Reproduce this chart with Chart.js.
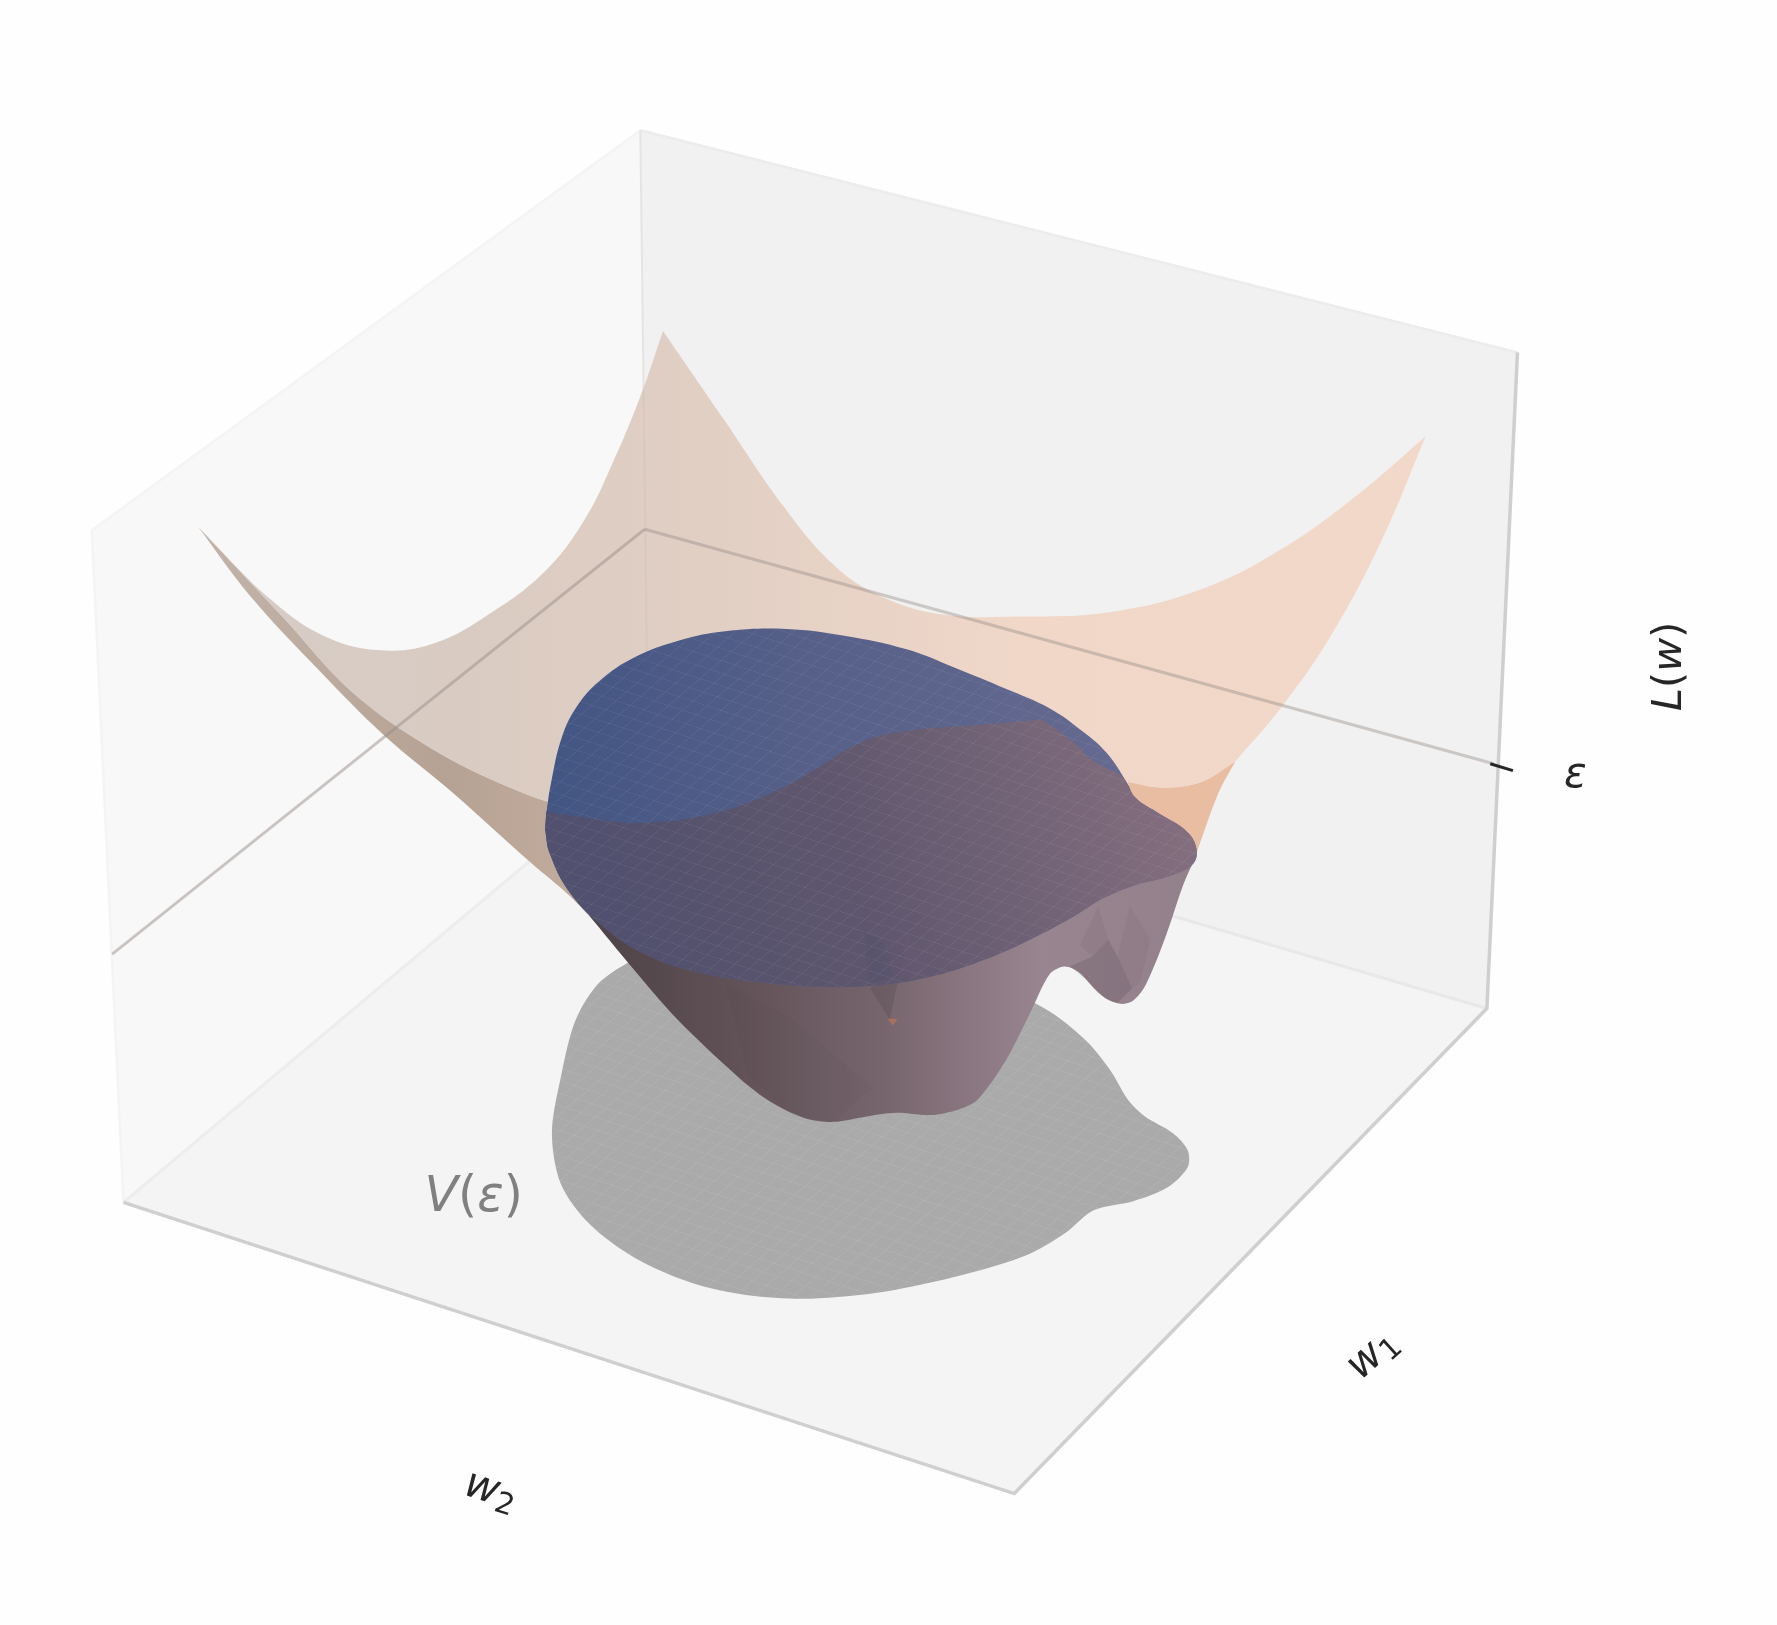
<!DOCTYPE html>
<html>
<head>
<meta charset="utf-8">
<title>Loss landscape</title>
<style>
  html, body { margin: 0; background: #fefefe; }
  canvas { display: block; }
</style>
<script src="https://cdn.jsdelivr.net/npm/chart.js@4"></script>
</head>
<body>
<canvas id="chart" width="1777" height="1625"></canvas>
<script>
var leftWall = [[81,468],[565,115],[572,672],[109,1061]];
var rightWall = [[565,115],[1339,311],[1312,890],[572,672]];
var floorPane = [[109,1061],[572,672],[1312,890],[895,1318]];

var floorEdge = [[109,1061],[895,1318],[1312,890],[1339,311]];
var leftEdge = [[109,1061],[81,468],[565,115]];
var topEdge = [[565,115],[1339,311]];
var backEdge = [[565,115],[572,672]];
var floorBackLeft = [[109,1061],[572,672]];
var floorBackRight = [[572,672],[1312,890]];
var epsLeft = [[99,842],[569,467]];
var epsRight = [[569,467],[1318,674]];
var epsTick = [[1315,674],[1335,680]];

var shadowOutline = [[570,840],[530,866],[508,900],[495,950],[487,1000],[495,1045],[520,1080],[560,1110],[610,1132],[660,1143],[715,1146],[780,1140],[850,1125],[905,1108],[940,1088],[965,1068],[1000,1060],[1030,1048],[1048,1030],[1048,1015],[1035,1000],[1010,985],[995,970],[980,945],[960,920],[930,895],[890,873],[850,852],[700,830]];

var surfaceUnder = [[175,465],[175,465],[220,525],[280,590],[340,650],[400,700],[468,761],[503,791],[535,825],[535,825],[620,760],[560,720],[500,712],[450,695],[380,660],[310,610],[250,545],[175,465]];
var surfaceCorner = [[995,688],[995,688],[1025,695],[1060,690],[1090,672],[1090,672],[1075,700],[1055,755],[1055,755],[1002,730]];
var surfaceTop = [[585,292],[585,292],[640,372],[690,445],[735,498],[775,525],[830,542],[900,544],[980,540],[1060,520],[1130,485],[1200,435],[1258,385],[1258,385],[1220,475],[1175,560],[1130,625],[1090,672],[1090,672],[1060,690],[1025,695],[995,690],[995,690],[800,720],[570,726],[500,712],[450,695],[380,660],[310,610],[250,545],[175,465],[175,465],[240,530],[290,563],[340,574],[385,567],[430,543],[480,505],[515,460],[540,410],[565,350],[585,292]];

var trunkOutline = [[520,808],[520,808],[557,853],[598,900],[652,951],[681,973],[711,987],[736,990],[766,985],[791,982],[821,984],[846,979],[863,970],[888,935],[909,894],[926,860],[939,853],[952,858],[968,875],[979,883],[990,886],[1000,883],[1011,869],[1028,828],[1044,781],[1055,756],[1055,756],[800,760],[600,780]];
var trunkFacetA = [[944,853],[964,844],[978,829],[986,844],[999,872],[986,885],[975,881],[959,865]];
var trunkFacetB = [[953,834],[969,800],[978,829],[964,844]];
var trunkFacetC = [[997,799],[1015,829],[1006,867],[999,872],[986,844]];
var trunkFacetD = [[640,868],[700,900],[770,960],[736,990],[700,985],[660,950]];
var foldLower = [[768,872],[785,900],[790,876],[793,864],[775,866]];
var foldTip = [[783,899],[792,899],[788,905]];

var blobBack = [[482,718],[486,692],[496,650],[510,622],[530,600],[560,580],[600,565],[640,557],[694,555],[745,561],[800,573],[842,589],[888,608],[926,625],[956,646],[977,665]];
var blobFrontRim = [[520,722],[570,726],[640,715],[700,690],[760,655],[800,645],[860,640],[920,635],[920,635],[947,655],[964,671],[988,684]];
var blobRim = [[994,690],[1002,704],[1023,718],[1044,731],[1055,746],[1053,762],[1032,773],[1002,781],[973,793],[947,809],[905,831],[863,849],[821,862],[779,869],[732,871],[673,867],[615,858],[571,843],[535,820],[503,788],[485,753],[481,732]];
var foldUpperDark = [[762,821],[767,868],[788,862],[779,832]];
var foldUpperLight = [[800,821],[794,865],[815,858]];

var axisLabels = [['w', '2'], ['w', '1'], ['L', '(', 'w', ')'], ['\u03b5'], ['V', '(', '\u03b5', ')']];

var viewToPage = 1777 / 1568;

function toXY(list) {
    return list.map(p => ({x: p[0], y: p[1]}));
}

// linear gradient between two points of the view, stops are [0..1, colour]
function gradient(from, to, stops) {
    return function(ctx) {
        var g = ctx.chart.ctx.createLinearGradient(from[0] * viewToPage, from[1] * viewToPage, to[0] * viewToPage, to[1] * viewToPage);
        stops.forEach(s => g.addColorStop(s[0], s[1]));
        return g;
    };
}

// the fine surface mesh, a skewed tile
function mesh(alpha) {
    return function(ctx) {
        var tile = document.createElement('canvas');
        tile.width = tile.height = 64;
        var t = tile.getContext('2d');
        t.fillStyle = 'rgba(255,255,255,' + alpha + ')';
        t.fillRect(0, 0, 64, 4);
        t.fillRect(0, 0, 4, 64);
        var p = ctx.chart.ctx.createPattern(tile, 'repeat');
        p.setTransform(new DOMMatrix([14 / 64, 4.6 / 64, -10.5 / 64, 9 / 64, 0, 0]));
        return p;
    };
}

function shape(points, color, tension) {
    return {data: toXY(points), showLine: true, fill: 'shape', backgroundColor: color, borderWidth: 0, pointRadius: 0, tension: tension || 0};
}

function line(points, color, width) {
    return {data: toXY(points), showLine: true, fill: false, borderColor: color, borderWidth: width, pointRadius: 0, tension: 0};
}

var blobOutline = blobBack.concat(blobRim);
var blobFront = [[482,716],[482,716]].concat(blobFrontRim, blobRim);

var layers = [
    shape(leftWall, '#f8f8f8'),
    shape(rightWall, '#f1f1f1'),
    shape(floorPane, '#f4f4f4'),
    line(leftEdge, '#f4f4f4', 2.5),
    line(topEdge, '#ececec', 2.5),
    line(backEdge, '#eeeeee', 2),
    line(floorBackLeft, '#ededed', 3),
    line(floorBackRight, '#e8e8e8', 3),
    line(floorEdge, '#cfcfcf', 3.5),
    shape(shadowOutline, '#aaaaaa', 0.3),
    shape(shadowOutline, mesh(0.07), 0.3),
    shape(surfaceUnder, gradient([175,0], [540,0], [[0,'#c2b3a9'],[0.6,'#b6a294'],[1,'#c4ad9e']]), 0.35),
    shape(surfaceCorner, '#e8bda2', 0.3),
    shape(surfaceTop, gradient([175,0], [1258,0], [[0,'#d6cdc7'],[0.21,'#d9cbc2'],[0.41,'#e1cfc4'],[0.67,'#f0d7c8'],[1,'#f2d8c9']]), 0.4),
    line(backEdge, 'rgba(170,150,135,0.10)', 2),
    line(epsLeft, 'rgba(150,140,135,0.48)', 3),
    line(epsRight, 'rgba(150,140,135,0.42)', 3),
    line(epsTick, '#262626', 3),
    shape(trunkOutline, gradient([534,0], [1055,0], [[0,'#4f4448'],[0.2,'#5f5055'],[0.47,'#77656d'],[0.74,'#998590'],[1,'#92808a']]), 0.3),
    shape(trunkFacetD, 'rgba(60,45,50,0.04)'),
    shape(trunkFacetA, 'rgba(50,40,45,0.15)'),
    shape(trunkFacetB, 'rgba(50,40,45,0.06)'),
    shape(trunkFacetC, 'rgba(50,40,45,0.05)'),
    shape(foldLower, 'rgba(70,60,65,0.22)'),
    shape(foldTip, '#a8705a'),
    shape(blobOutline, gradient([481,0], [1000,0], [[0,'#425583'],[0.42,'#555f88'],[1,'#666a90']]), 0.4),
    shape(blobFront, gradient([560,860], [1050,700], [[0,'#51506e'],[0.4,'#5e566d'],[1,'#856f7f']]), 0.4),
    shape(foldUpperDark, 'rgba(70,75,110,0.16)'),
    shape(foldUpperLight, 'rgba(110,95,125,0.14)'),
    shape(blobOutline, mesh(0.06), 0.4)
];

// first dataset would land on top, so number them back to front
layers.forEach((d, i) => { d.order = layers.length - i; d.clip = false; });

var axisText = {
    id: 'axisText',
    afterDatasetsDraw(chart) {
        var c = chart.ctx, sx = chart.scales.x, sy = chart.scales.y;
        // letters are slanted, brackets upright and digits sit low like math text
        function fontFor(part, size) {
            if (part === '(' || part === ')') return size + 'px "DejaVu Sans"';
            if (/[0-9]/.test(part)) return (size * 0.7) + 'px "DejaVu Sans"';
            return 'italic ' + size + 'px "DejaVu Sans"';
        }
        function put(parts, x, y, deg, size, color) {
            c.save();
            c.translate(sx.getPixelForValue(x), sy.getPixelForValue(y));
            c.rotate(deg * Math.PI / 180);
            c.fillStyle = color;
            c.textAlign = 'left';
            c.textBaseline = 'alphabetic';
            var total = 0;
            parts.forEach(p => { c.font = fontFor(p, size); total += c.measureText(p).width; });
            var at = -total / 2;
            parts.forEach(p => {
                c.font = fontFor(p, size);
                c.fillText(p, at, /[0-9]/.test(p) ? size * 0.5 : size * 0.36);
                at += c.measureText(p).width;
            });
            c.restore();
        }
        put(axisLabels[0], 434, 1313, 18, 42, '#262626');
        put(axisLabels[1], 1209, 1193, -42, 42, '#262626');
        put(axisLabels[2], 1470, 588, -90, 41.5, '#262626');
        put(axisLabels[3], 1390, 681, 0, 42, '#262626');
        put(axisLabels[4], 418, 1053, 0, 49, '#808080');
    }
};

var chart = new Chart(document.getElementById('chart').getContext('2d'), {
    type: 'scatter',
    data: {datasets: layers},
    plugins: [axisText],
    options: {
        responsive: false,
        animation: false,
        events: [],
        layout: {padding: 0},
        plugins: {legend: {display: false}, tooltip: {enabled: false}},
        scales: {
            x: {type: 'linear', min: 0, max: 1568, display: false},
            y: {type: 'linear', min: 0, max: 1434, reverse: true, display: false}
        }
    }
});
</script>
</body>
</html>
